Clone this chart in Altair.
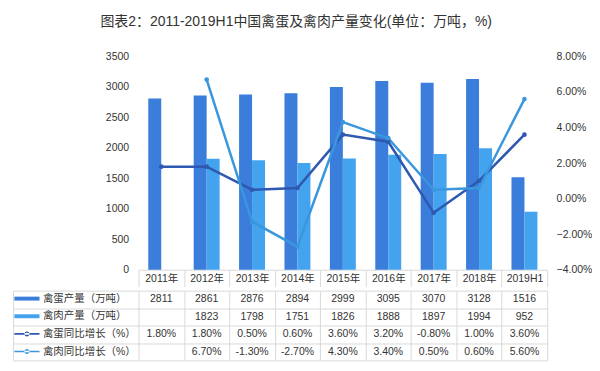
import altair as alt
import pandas as pd

years = ["2011年", "2012年", "2013年", "2014年", "2015年", "2016年", "2017年", "2018年", "2019H1"]
egg_output = [2811, 2861, 2876, 2894, 2999, 3095, 3070, 3128, 1516]
meat_output = [None, 1823, 1798, 1751, 1826, 1888, 1897, 1994, 952]
egg_growth = [1.8, 1.8, 0.5, 0.6, 3.6, 3.2, -0.8, 1.0, 3.6]
meat_growth = [None, 6.7, -1.3, -2.7, 4.3, 3.4, 0.5, 0.6, 5.6]
rows = ["禽蛋产量（万吨）", "禽肉产量（万吨）", "禽蛋同比增长（%）", "禽肉同比增长（%）"]
left_ticks = [0, 500, 1000, 1500, 2000, 2500, 3000, 3500]
right_ticks = [-4, -2, 0, 2, 4, 6, 8]
title_text = "图表2：2011-2019H1中国禽蛋及禽肉产量变化(单位：万吨，%)"

colors = ["#3a7ddb", "#44a3ee", "#2f58b0", "#3a97dd"]
shapes = [
    "M-1.4,-0.22H1.4V0.22H-1.4Z",
    "M-1.4,-0.22H1.4V0.22H-1.4Z",
    "M-1.4,-0.09H1.4V0.09H-1.4Z M-0.28,0A0.28,0.28 0 1,0 0.28,0A0.28,0.28 0 1,0 -0.28,0Z",
    "M-1.4,-0.09H1.4V0.09H-1.4Z M-0.28,0A0.28,0.28 0 1,0 0.28,0A0.28,0.28 0 1,0 -0.28,0Z",
]
FONT = "Liberation Sans, Noto Sans CJK SC"
GRID = "#d9d9d9"
TXT = "#333333"
FS = 10.5

# data tables
bar_rows = []
for y, e, m in zip(years, egg_output, meat_output):
    bar_rows.append({"year": y, "series": rows[0], "value": e})
    if m is not None:
        bar_rows.append({"year": y, "series": rows[1], "value": m})
bars_df = pd.DataFrame(bar_rows)

line_rows = []
for y, e, m in zip(years, egg_growth, meat_growth):
    line_rows.append({"year": y, "series": rows[2], "value": e})
    if m is not None:
        line_rows.append({"year": y, "series": rows[3], "value": m})
lines_df = pd.DataFrame(line_rows)

cell_rows = []
for i, y in enumerate(years):
    vals = [egg_output[i], meat_output[i], egg_growth[i], meat_growth[i]]
    for j, v in enumerate(vals):
        if v is None:
            continue
        lab = str(v) if j < 2 else f"{v:.2f}%"
        cell_rows.append({"year": y, "row": rows[j], "label": lab})
cells_df = pd.DataFrame(cell_rows)
legend_df = pd.DataFrame({"row": rows})

xscale = alt.Scale(domain=years, paddingInner=0, paddingOuter=0)
cscale = alt.Scale(domain=rows, range=colors)

x_top = alt.X("year:N", sort=years, scale=xscale,
              axis=alt.Axis(title=None, labelAngle=0, tickBand="extent", ticks=True,
                            tickSize=17, tickColor=GRID, domainColor=GRID,
                            labelPadding=-13.5, labelFontSize=FS, labelColor=TXT,
                            labelFont=FONT, grid=False))

bars = alt.Chart(bars_df).mark_bar().encode(
    x=x_top,
    xOffset=alt.XOffset("series:N", scale=alt.Scale(domain=rows[:2], paddingInner=0, paddingOuter=0.75)),
    y=alt.Y("value:Q", scale=alt.Scale(domain=[0, 3500], nice=False),
            axis=alt.Axis(orient="left", values=left_ticks, title=None, grid=False, format="d",
                          domain=False, ticks=False, labelPadding=10, labelFontSize=FS,
                          labelColor=TXT, labelFont=FONT)),
    color=alt.Color("series:N", scale=cscale, legend=None),
)

yright = alt.Y("value:Q", scale=alt.Scale(domain=[-4, 8], nice=False),
               axis=alt.Axis(orient="right", values=right_ticks, title=None, grid=False,
                             domain=False, ticks=False, labelPadding=9, labelFontSize=FS,
                             labelColor=TXT, labelFont=FONT,
                             labelExpr="format(datum.value, '.2f') + '%'"))
lines = alt.Chart(lines_df).mark_line(strokeWidth=2.5).encode(
    x=alt.X("year:N", sort=years, scale=xscale),
    y=yright,
    color=alt.Color("series:N", scale=cscale, legend=None),
)
points = alt.Chart(lines_df).mark_circle(size=22, opacity=1).encode(
    x=alt.X("year:N", sort=years, scale=xscale),
    y=yright,
    color=alt.Color("series:N", scale=cscale, legend=None),
)

top = alt.layer(bars, alt.layer(lines, points)).resolve_scale(y="independent").properties(
    width=410, height=214)

yscale_t = alt.Scale(domain=rows, paddingInner=0, paddingOuter=0)
text = alt.Chart(cells_df).mark_text(fontSize=FS, color=TXT, font=FONT).encode(
    x=alt.X("year:N", sort=years, scale=xscale,
            axis=alt.Axis(title=None, labels=False, ticks=False, domain=False, grid=True,
                          tickBand="extent", gridColor=GRID)),
    y=alt.Y("row:N", sort=rows, scale=yscale_t,
            axis=alt.Axis(orient="left", title=None, labels=False, domain=False, ticks=True,
                          tickBand="extent", tickSize=126, tickColor=GRID, grid=True,
                          gridColor=GRID)),
    text="label:N",
)

leg = alt.Legend(title=None, orient="none", legendX=-121, legendY=-1, padding=0,
                 rowPadding=2.7, symbolSize=324, labelOffset=7, labelFontSize=FS,
                 labelColor=TXT, labelFont=FONT, symbolStrokeWidth=0, symbolOpacity=1,
                 labelLimit=200)
legend_layer = alt.Chart(legend_df).mark_point(filled=True, opacity=0).encode(
    y=alt.Y("row:N", sort=rows, scale=yscale_t,
            axis=alt.Axis(orient="left", title=None, labels=False, ticks=False, grid=False,
                          domain=True, domainColor=GRID, offset=126)),
    color=alt.Color("row:N", scale=cscale, legend=leg),
    shape=alt.Shape("row:N", scale=alt.Scale(domain=rows, range=shapes), legend=leg),
)

table = alt.layer(text, legend_layer).resolve_axis(y="independent").properties(
    width=410, height=70)

chart = alt.vconcat(top, table, spacing=2).resolve_scale(
    color="independent", shape="independent"
).properties(
    title=alt.TitleParams(title_text, fontSize=14, font=FONT, color=TXT,
                          fontWeight="normal", anchor="middle", offset=23, dx=-6),
    padding={"left": 4, "top": 6, "right": 0, "bottom": 0},
    background="white",
).configure_view(stroke=None)

chart.save("out.html", embed_options={"renderer": "svg", "actions": False})
